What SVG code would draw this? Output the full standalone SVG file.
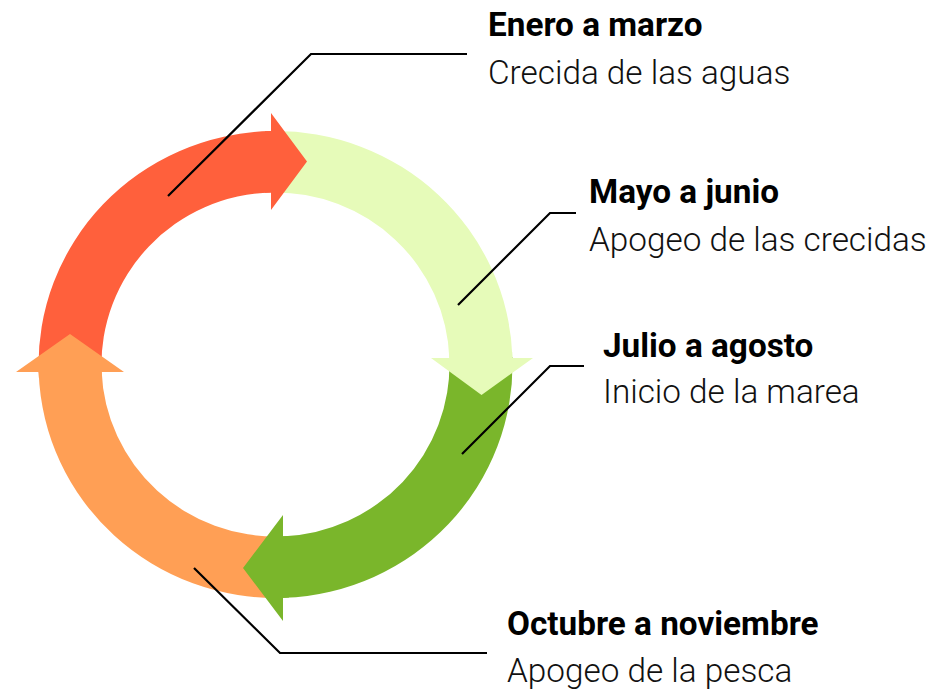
<svg xmlns="http://www.w3.org/2000/svg" width="935" height="690" viewBox="0 0 935 690">
<style>
.t{font-family:Roboto,"Liberation Sans",sans-serif;font-weight:700;font-size:33.3px;fill:#000}
.s{font-family:Roboto,"Liberation Sans",sans-serif;font-weight:300;font-size:33.3px;fill:#111}
.ln{fill:none;stroke:#000;stroke-width:2.2;stroke-linejoin:miter}
.red{fill:#ff603c}.lg{fill:#e6fbb9}.gr{fill:#7ab62b}.or{fill:#ff9f55}
</style>
<rect width="935" height="690" fill="#fff"/>
<g id="ring-bodies">
<path id="body-ene" class="red" d="M38.7 373.1 A237 233.5 0 0 1 270.3 131.1 L271.7 192.5 A174 172 0 0 0 101.6 370.8 Z"/>
<path id="body-may" class="lg" d="M270.3 131.1 A237 233.5 0 0 1 512.4 357 L449.4 359 A174 172 0 0 0 271.7 192.5 Z"/>
<path id="body-jul" class="gr" d="M512.4 357 A237 233.5 0 0 1 284.2 597.8 L281.9 536.4 A174 172 0 0 0 449.4 359 Z"/>
<path id="body-oct" class="or" d="M284.2 597.8 A237 233.5 0 0 1 38.7 373.1 L101.6 370.8 A174 172 0 0 0 281.9 536.4 Z"/>
</g>
<g id="ring-heads">
<polygon id="head-ene" class="red" points="265,131.2 271,131 271,113 307,161.5 271,210 271,192.5 265,192.8"/>
<polygon id="head-may" class="lg" points="449,352 512.2,352 512.4,358 533,358 481.5,395 431,358 449.4,358"/>
<polygon id="head-jul" class="gr" points="289,536 289,597.6 283,597.9 283,621 243,568 283,515 283,536.3"/>
<polygon id="head-oct" class="or" points="38.9,378 102,378 101.7,372 124,372 70,334 16,372 38.6,372"/>
</g>
<g id="connectors">
<polyline class="ln" points="168,196 311,54 467,54"/>
<polyline class="ln" points="458,305 550,213 576,213"/>
<polyline class="ln" points="462,454 550,366 584,366"/>
<polyline class="ln" points="194,568 280,653 487,653"/>
</g>
<g id="label-ene">
<text class="t" x="488" y="36">Enero a marzo</text>
<text class="s" x="488" y="84">Crecida de las aguas</text>
</g>
<g id="label-may">
<text class="t" x="589" y="203">Mayo a junio</text>
<text class="s" x="589" y="251">Apogeo de las crecidas</text>
</g>
<g id="label-jul">
<text class="t" x="603" y="357">Julio a agosto</text>
<text class="s" x="603" y="403">Inicio de la marea</text>
</g>
<g id="label-oct">
<text class="t" x="507" y="635">Octubre a noviembre</text>
<text class="s" x="507" y="682">Apogeo de la pesca</text>
</g>
</svg>
